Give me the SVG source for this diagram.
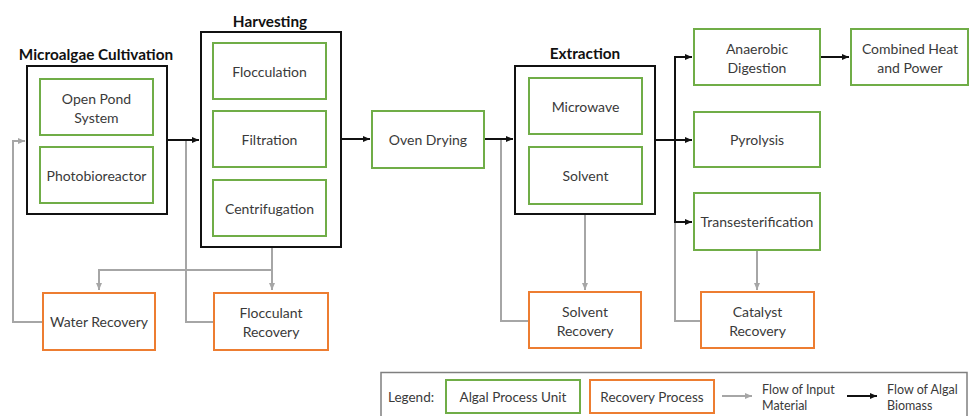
<svg xmlns="http://www.w3.org/2000/svg" width="969" height="416" viewBox="0 0 969 416">
<defs>
<style>
text{font-family:Lato,"Open Sans","Liberation Sans",sans-serif;font-size:14px;fill:#3a3a3a;text-anchor:middle;dominant-baseline:central}
.t{font-weight:bold;font-size:15.3px;fill:#111}
.g{fill:#fff;stroke:#70AD47;stroke-width:2}
.o{fill:#fff;stroke:#ED7D31;stroke-width:2}
.k{fill:none;stroke:#111;stroke-width:2}
.bl{fill:none;stroke:#111;stroke-width:2}
.gl{fill:none;stroke:#a6a6a6;stroke-width:2}
.lg{fill:none;stroke:#7f7f7f;stroke-width:1.5}
.m{font-size:13.5px}
.s{font-size:12.5px;text-anchor:start}
</style>
<marker id="ab" viewBox="0 0 8 8" refX="7" refY="4" markerWidth="8" markerHeight="8" markerUnits="userSpaceOnUse" orient="auto"><path d="M0,1 L7,4 L0,7 Z" fill="#111"/></marker>
<marker id="ag" viewBox="0 0 8 8" refX="7" refY="4" markerWidth="8" markerHeight="8" markerUnits="userSpaceOnUse" orient="auto"><path d="M0,1 L7,4 L0,7 Z" fill="#a6a6a6"/></marker>
</defs>
<rect width="969" height="416" fill="#fff"/>

<g id="connectors">
<path class="gl" d="M272,247 V290" marker-end="url(#ag)"/>
<path class="gl" d="M272,270 H99 V290" marker-end="url(#ag)"/>
<path class="gl" d="M43,322 H13 V141 H25" marker-end="url(#ag)"/>
<path class="gl" d="M214,322 H186 V140"/>
<path class="gl" d="M585,214 V290" marker-end="url(#ag)"/>
<path class="gl" d="M529,321 H501 V139"/>
<path class="gl" d="M757,250 V290" marker-end="url(#ag)"/>
<path class="gl" d="M701,321 H675 V222"/>
<path class="bl" d="M167,140 H199" marker-end="url(#ab)"/>
<path class="bl" d="M341,139 H370" marker-end="url(#ab)"/>
<path class="bl" d="M484,139 H513" marker-end="url(#ab)"/>
<path class="bl" d="M655,140 H692" marker-end="url(#ab)"/>
<path class="bl" d="M692,57 H675 V222 H692" marker-end="url(#ab)"/>
<path class="bl" d="M675,57 H692" marker-end="url(#ab)"/>
<path class="bl" d="M820,57 H849" marker-end="url(#ab)"/>
</g>

<g id="cultivation">
<text class="t" x="96" y="54">Microalgae Cultivation</text>
<rect class="k" x="27" y="66" width="140" height="148"/>
</g>
<g id="open-pond">
<rect class="g" x="40" y="79" width="113" height="56"/>
<text x="96.5" y="98">Open Pond</text>
<text x="96.5" y="117">System</text>
</g>
<g id="photobioreactor">
<rect class="g" x="40" y="147" width="113" height="56"/>
<text x="96.5" y="175">Photobioreactor</text>
</g>

<g id="harvesting">
<text class="t" x="270" y="21">Harvesting</text>
<rect class="k" x="201" y="32" width="140" height="215"/>
</g>
<g id="flocculation">
<rect class="g" x="213" y="43" width="113" height="56"/>
<text x="269.5" y="71">Flocculation</text>
</g>
<g id="filtration">
<rect class="g" x="213" y="111" width="113" height="56"/>
<text x="269.5" y="139">Filtration</text>
</g>
<g id="centrifugation">
<rect class="g" x="213" y="180" width="113" height="56"/>
<text x="269.5" y="208">Centrifugation</text>
</g>

<g id="oven-drying">
<rect class="g" x="372" y="111" width="112" height="57"/>
<text x="428" y="139.5">Oven Drying</text>
</g>

<g id="extraction">
<text class="t" x="585" y="53">Extraction</text>
<rect class="k" x="515" y="66" width="140" height="148"/>
</g>
<g id="microwave">
<rect class="g" x="529" y="78" width="113" height="56"/>
<text x="585.5" y="106">Microwave</text>
</g>
<g id="solvent">
<rect class="g" x="529" y="147" width="113" height="57"/>
<text x="585.5" y="175.5">Solvent</text>
</g>

<g id="anaerobic-digestion">
<rect class="g" x="694" y="29" width="126" height="56"/>
<text x="757" y="48">Anaerobic</text>
<text x="757" y="67">Digestion</text>
</g>
<g id="pyrolysis">
<rect class="g" x="694" y="112" width="126" height="55"/>
<text x="757" y="139.5">Pyrolysis</text>
</g>
<g id="transesterification">
<rect class="g" x="694" y="193" width="126" height="57"/>
<text x="757" y="221.5">Transesterification</text>
</g>
<g id="chp">
<rect class="g" x="851" y="29" width="117" height="56"/>
<text x="910" y="48">Combined Heat</text>
<text x="910" y="67">and Power</text>
</g>

<g id="water-recovery">
<rect class="o" x="43" y="293" width="112" height="57"/>
<text x="99" y="321.5">Water Recovery</text>
</g>
<g id="flocculant-recovery">
<rect class="o" x="214" y="293" width="114" height="57"/>
<text x="271" y="312.5">Flocculant</text>
<text x="271" y="331">Recovery</text>
</g>
<g id="solvent-recovery">
<rect class="o" x="529" y="292" width="112" height="56"/>
<text x="585" y="311.5">Solvent</text>
<text x="585" y="330">Recovery</text>
</g>
<g id="catalyst-recovery">
<rect class="o" x="701" y="292" width="113" height="56"/>
<text x="757.5" y="311.5">Catalyst</text>
<text x="757.5" y="330">Recovery</text>
</g>

<g id="legend">
<rect class="lg" x="381" y="372.5" width="586" height="50" fill="#fff"/>
<text class="m" x="388" y="397" style="text-anchor:start">Legend:</text>
<rect class="g" x="446" y="380" width="134" height="33"/>
<text class="m" x="513" y="397">Algal Process Unit</text>
<rect class="o" x="590" y="380" width="124" height="33"/>
<text class="m" x="652" y="397">Recovery Process</text>
<path class="gl" d="M722,396 H752" marker-end="url(#ag)"/>
<text class="s" x="762" y="389">Flow of Input</text>
<text class="s" x="762" y="405">Material</text>
<path class="bl" d="M847,396 H877" marker-end="url(#ab)"/>
<text class="s" x="887" y="389">Flow of Algal</text>
<text class="s" x="887" y="405">Biomass</text>
</g>
</svg>
